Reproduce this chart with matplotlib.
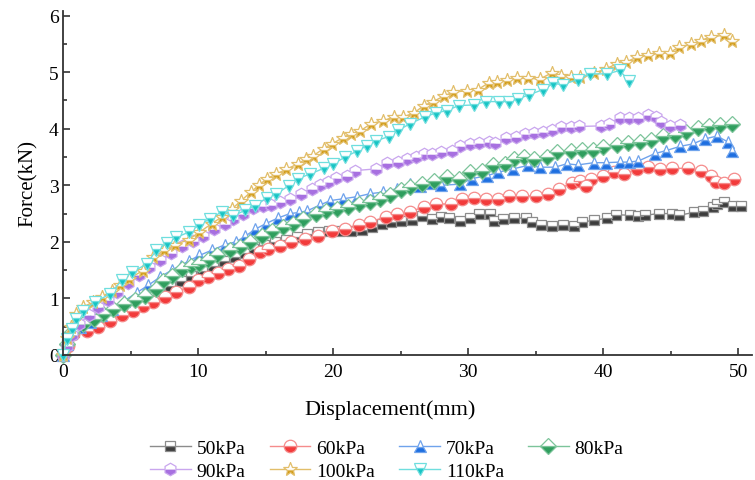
"""
Force-displacement curves at different suction pressures.
"""

import matplotlib.pyplot as plt

plt.rcParams['font.family'] = ['Liberation Serif', 'DejaVu Serif']

labels = ['50kPa', '60kPa', '70kPa', '80kPa', '90kPa', '100kPa', '110kPa']

x50 = [0, 0.3, 0.8, 1.5, 2.3, 3.1, 3.9, 4.7, 5.5, 6.3, 7.1, 7.9, 8.7, 9.5, 10.3, 11.1,
       11.9, 12.7, 13.4, 14.1, 14.9, 15.7, 16.5, 17.3, 18.1, 18.9, 19.7, 20.5, 21.3,
       22.1, 22.9, 23.6, 24.3, 25.0, 25.8, 26.6, 27.3, 28.0, 28.6, 29.4, 30.1, 30.8,
       31.6, 31.9, 32.6, 33.4, 34.3, 34.7, 35.4, 36.2, 37.0, 37.8, 38.4, 39.3, 40.3,
       40.9, 42.0, 42.6, 43.1, 44.1, 45.1, 45.6, 46.7, 47.4, 48.1, 48.4, 48.9, 49.6, 50.2]
y50 = [0, 0.2, 0.4, 0.5, 0.58, 0.68, 0.77, 0.86, 0.95, 1.04, 1.13, 1.22, 1.31, 1.4, 1.48,
       1.57, 1.66, 1.74, 1.81, 1.88, 1.94, 2.0, 2.04, 2.08, 2.13, 2.17, 2.19, 2.2, 2.2,
       2.21, 2.26, 2.32, 2.35, 2.37, 2.38, 2.46, 2.4, 2.44, 2.42, 2.36, 2.42, 2.5, 2.5,
       2.37, 2.41, 2.42, 2.42, 2.35, 2.3, 2.28, 2.3, 2.28, 2.35, 2.38, 2.42, 2.48, 2.47,
       2.45, 2.47, 2.5, 2.5, 2.47, 2.52, 2.55, 2.61, 2.67, 2.71, 2.63, 2.64]

x60 = [0, 0.4, 0.75, 1.75, 2.6, 3.5, 4.35, 5.2, 5.95, 6.7, 7.55, 8.4, 9.3, 10.0, 10.7,
       11.5, 12.2, 13.0, 13.8, 14.6, 15.2, 16.1, 16.9, 17.9, 18.9, 19.9, 20.9, 21.9, 22.7,
       23.9, 24.7, 25.7, 26.7, 27.6, 28.7, 29.5, 30.4, 31.3, 32.2, 33.0, 34.0, 35.0, 35.9,
       36.7, 37.7, 38.3, 38.7, 39.1, 40.0, 40.8, 41.5, 42.5, 43.3, 44.2, 45.1, 46.3, 47.2,
       48.0, 48.3, 48.9, 49.7]
y60 = [0, 0.15, 0.37, 0.42, 0.49, 0.6, 0.7, 0.78, 0.87, 0.94, 1.02, 1.11, 1.21, 1.32, 1.38,
       1.45, 1.52, 1.58, 1.7, 1.82, 1.87, 1.93, 2.0, 2.05, 2.11, 2.2, 2.23, 2.29, 2.35,
       2.44, 2.5, 2.53, 2.62, 2.67, 2.67, 2.76, 2.77, 2.76, 2.76, 2.81, 2.81, 2.81, 2.85,
       2.94, 3.04, 3.08, 2.99, 3.11, 3.17, 3.23, 3.2, 3.28, 3.33, 3.29, 3.3, 3.3, 3.25,
       3.17, 3.06, 3.04, 3.11]

x70 = [0, 0.3, 0.6, 1.25, 2.0, 2.8, 3.6, 4.5, 5.45, 6.3, 7.2, 8.05, 8.7, 9.3, 10.1, 11.0,
       12.0, 12.8, 13.5, 14.2, 15.0, 15.9, 16.8, 17.5, 18.1, 19.0, 19.8, 20.7, 21.8, 22.7,
       23.7, 24.7, 25.7, 26.4, 27.3, 28.0, 29.4, 30.3, 31.4, 32.2, 33.3, 34.4, 35.3, 36.4,
       37.3, 38.1, 39.3, 40.2, 41.2, 41.9, 42.6, 43.8, 44.6, 45.7, 46.6, 47.5, 48.4, 49.2, 49.5]
y70 = [0, 0.2, 0.38, 0.5, 0.58, 0.7, 0.82, 0.95, 1.1, 1.23, 1.38, 1.5, 1.58, 1.66, 1.76,
       1.85, 1.95, 2.0, 2.1, 2.22, 2.32, 2.42, 2.5, 2.52, 2.55, 2.65, 2.73, 2.76, 2.8, 2.85,
       2.88, 2.94, 3.03, 2.99, 3.04, 3.0, 3.02, 3.12, 3.17, 3.23, 3.29, 3.35, 3.32, 3.32,
       3.38, 3.36, 3.4, 3.4, 3.41, 3.41, 3.43, 3.56, 3.61, 3.69, 3.73, 3.82, 3.87, 3.77, 3.61]

x80 = [0, 0.3, 0.7, 1.5, 2.3, 3.0, 3.7, 4.5, 5.3, 6.1, 6.9, 7.4, 8.1, 8.8, 9.5, 10.1,
       10.75, 11.4, 12.4, 13.1, 13.85, 14.7, 15.5, 16.3, 17.0, 17.8, 18.7, 19.5, 20.3,
       21.1, 21.9, 22.7, 23.5, 24.2, 25.0, 25.7, 26.6, 27.5, 28.4, 29.3, 30.1, 31.0, 31.8,
       32.7, 33.4, 34.1, 34.9, 35.8, 36.6, 37.6, 38.4, 39.2, 40.0, 41.0, 41.8, 42.7, 43.5,
       44.4, 45.3, 46.1, 47.0, 47.8, 48.6, 49.5]
y80 = [0, 0.2, 0.4, 0.55, 0.64, 0.73, 0.81, 0.9, 0.98, 1.05, 1.17, 1.3, 1.4, 1.52, 1.57,
       1.61, 1.68, 1.76, 1.85, 1.9, 2.0, 2.11, 2.2, 2.26, 2.32, 2.41, 2.5, 2.55, 2.58, 2.62,
       2.67, 2.7, 2.76, 2.82, 2.91, 2.97, 3.02, 3.07, 3.15, 3.11, 3.24, 3.26, 3.35, 3.37,
       3.47, 3.5, 3.47, 3.5, 3.59, 3.61, 3.62, 3.63, 3.68, 3.71, 3.74, 3.77, 3.8, 3.88,
       3.89, 3.95, 4.02, 4.04, 4.06, 4.09]

x90 = [0, 0.3, 0.7, 1.2, 1.9, 2.6, 3.3, 4.0, 4.8, 5.6, 6.4, 7.2, 8.0, 8.8, 9.6, 10.4, 11.2,
       12.0, 12.6, 13.3, 14.1, 14.8, 15.4, 16.1, 16.8, 17.6, 18.4, 19.0, 19.6, 20.2, 21.0,
       21.6, 23.2, 24.0, 24.8, 25.5, 26.1, 26.7, 27.3, 28.0, 28.8, 29.4, 30.1, 30.8, 31.5,
       32.0, 32.8, 33.5, 34.2, 34.9, 35.5, 36.2, 36.9, 37.6, 38.2, 39.8, 40.4, 41.2, 41.9,
       42.6, 43.3, 43.9, 44.3, 44.9, 45.7]
y90 = [0, 0.15, 0.35, 0.55, 0.7, 0.85, 0.98, 1.12, 1.27, 1.42, 1.55, 1.68, 1.8, 1.92, 2.02,
       2.1, 2.22, 2.32, 2.4, 2.5, 2.6, 2.64, 2.65, 2.71, 2.75, 2.85, 2.94, 3.0, 3.06, 3.13,
       3.17, 3.26, 3.29, 3.4, 3.42, 3.46, 3.5, 3.56, 3.56, 3.59, 3.61, 3.7, 3.73, 3.75, 3.77,
       3.75, 3.84, 3.86, 3.91, 3.93, 3.94, 3.98, 4.03, 4.03, 4.04, 4.05, 4.09, 4.19, 4.19,
       4.19, 4.25, 4.21, 4.12, 4.04, 4.07]

x100 = [0, 0.3, 0.6, 1.0, 1.5, 2.2, 2.9, 3.6, 4.2, 4.9, 5.9, 6.7, 7.5, 8.3, 9.3, 10.1,
        11.0, 11.75, 12.5, 13.2, 13.9, 14.5, 15.1, 15.8, 16.5, 17.4, 18.0, 18.5, 19.3, 19.9,
        20.7, 21.3, 22.0, 22.8, 23.7, 24.5, 25.2, 26.0, 26.7, 27.4, 28.2, 28.9, 29.9, 30.7,
        31.5, 32.1, 32.9, 33.6, 34.4, 35.3, 36.2, 36.9, 37.6, 38.3, 39.3, 40.2, 41.0, 41.7,
        42.5, 43.3, 44.1, 44.9, 45.6, 46.5, 47.2, 48.0, 48.9, 49.5]
y100 = [0, 0.3, 0.5, 0.72, 0.85, 0.93, 1.03, 1.13, 1.23, 1.35, 1.49, 1.73, 1.85, 1.95, 2.04,
        2.17, 2.32, 2.44, 2.58, 2.73, 2.88, 3.0, 3.12, 3.2, 3.28, 3.38, 3.47, 3.52, 3.65,
        3.73, 3.84, 3.91, 3.96, 4.09, 4.14, 4.21, 4.21, 4.28, 4.41, 4.48, 4.58, 4.65, 4.67,
        4.69, 4.81, 4.82, 4.87, 4.89, 4.89, 4.88, 4.99, 4.94, 4.92, 4.92, 4.98, 5.06, 5.15,
        5.18, 5.27, 5.3, 5.34, 5.34, 5.45, 5.49, 5.56, 5.63, 5.65, 5.56]

x110 = [0, 0.3, 0.65, 1.0, 1.5, 2.4, 3.5, 4.35, 5.1, 6.2, 6.9, 7.7, 8.4, 9.3, 10.1, 10.9,
        11.75, 12.6, 13.5, 14.2, 15.1, 15.8, 16.7, 17.4, 18.3, 19.3, 20.0, 20.9, 21.8, 22.5,
        23.2, 24.1, 24.8, 25.7, 26.8, 27.6, 28.4, 29.3, 30.4, 31.3, 32.3, 33.0, 33.7, 34.5,
        35.5, 36.3, 37.0, 38.1, 39.0, 40.3, 41.2, 41.9]
y110 = [0, 0.28, 0.46, 0.64, 0.78, 0.94, 1.08, 1.32, 1.46, 1.61, 1.85, 1.98, 2.08, 2.17,
        2.3, 2.41, 2.53, 2.46, 2.56, 2.64, 2.78, 2.85, 2.99, 3.12, 3.2, 3.3, 3.38, 3.5, 3.61,
        3.7, 3.79, 3.86, 3.97, 4.09, 4.21, 4.28, 4.32, 4.41, 4.42, 4.48, 4.48, 4.48, 4.53,
        4.6, 4.69, 4.8, 4.78, 4.87, 4.97, 4.97, 5.03, 4.85]

xs = [x50, x60, x70, x80, x90, x100, x110]
ys = [y50, y60, y70, y80, y90, y100, y110]

colors = ['#3c3c3c', '#f23b3b', '#1e6fe0', '#2f9e5e', '#a770e0', '#d19a12', '#17c4c4']
lines = ['#8c8c8c', '#f58c8c', '#6fa3ec', '#7cc49a', '#c9a6ee', '#e2be6a', '#6fdede']
markers = ['s', 'o', '^', 'D', 'h', '*', 'v']
sizes = [7, 9, 8, 8, 9, 10, 9]

fig = plt.figure(figsize=(7.55, 4.81), dpi=100)
ax = fig.add_axes([0.0834, 0.26, 0.9126, 0.716])

handles = []
for x, y, lab, c, lc, m, s in zip(xs, ys, labels, colors, lines, markers, sizes):
    h, = ax.plot(x, y, color=lc, lw=1.0, marker=m, markersize=s,
                 markerfacecolor=c, markerfacecoloralt='white', fillstyle='bottom',
                 markeredgecolor=lc, markeredgewidth=0.9, label=lab, clip_on=False)
    handles.append(h)

ax.set_xlim(0, 51)
ax.set_ylim(0, 6.09)
ax.set_xticks([0, 10, 20, 30, 40, 50])
ax.set_xticks([5, 15, 25, 35, 45], minor=True)
ax.set_yticks([0, 1, 2, 3, 4, 5, 6])
ax.set_yticks([0.5, 1.5, 2.5, 3.5, 4.5, 5.5], minor=True)
ax.tick_params(which='both', direction='in', width=1.2, colors='#333333', labelsize=14,
               labelcolor='black')
ax.tick_params(which='major', length=5)
ax.tick_params(which='minor', length=3)
ax.tick_params(axis='x', pad=6)
ax.tick_params(axis='y', pad=3)

for side in ['top', 'right']:
    ax.spines[side].set_visible(False)
for side in ['left', 'bottom']:
    ax.spines[side].set_linewidth(1.3)
    ax.spines[side].set_color('#333333')

ax.set_xlabel('Displacement(mm)', fontsize=16)
ax.xaxis.set_label_coords(0.475, -0.13)
ax.set_ylabel('Force(kN)', fontsize=15, labelpad=8)

# legend filled row by row: 50 60 70 80 / 90 100 110
order = [0, 4, 1, 5, 2, 6, 3]
ax.legend([handles[i] for i in order], [labels[i] for i in order],
          loc='upper center', bbox_to_anchor=(0.47, -0.195), ncol=4, frameon=False,
          fontsize=14, handlelength=2.1, columnspacing=1.24, handletextpad=0.3,
          labelspacing=0.25)

fig.savefig('out.png', dpi=100)
